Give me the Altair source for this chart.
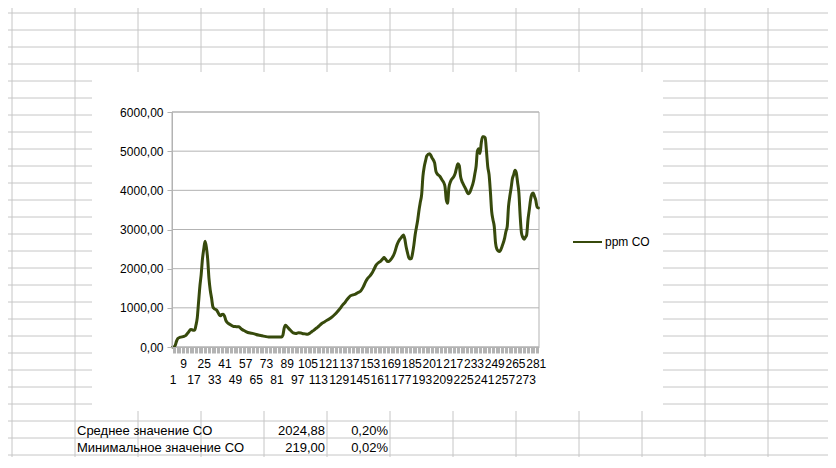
import altair as alt
import pandas as pd

# ---------------- data ----------------
series_name = "ppm CO"
idx = [1, 2, 3, 4, 5, 7, 9, 11, 13, 15, 16, 17, 18, 19, 20, 21, 22, 23, 24, 25,
       26, 27, 28, 29, 30, 31, 32, 33, 35, 37, 38, 39, 40, 41, 42, 43, 45, 48, 50, 52,
       54, 56, 59, 62, 64, 67, 70, 73, 75, 80, 85, 86, 87, 88, 89, 90, 92, 94, 96, 98,
       100, 101, 103, 105, 107, 108, 110, 112, 114, 116, 118, 120, 122, 124, 126, 128, 130, 132, 134, 135,
       137, 138, 140, 142, 144, 146, 148, 150, 151, 153, 155, 156, 158, 160, 161, 163, 164, 165, 167, 168,
       170, 172, 174, 176, 177, 179, 180, 181, 182, 183, 184, 185, 186, 187, 188, 190, 191, 192, 193, 194,
       195, 196, 197, 199, 200, 201, 203, 204, 205, 207, 209, 210, 211, 212, 213, 214, 215, 216, 218, 219,
       220, 221, 222, 223, 224, 225, 227, 229, 230, 231, 233, 234, 235, 236, 237, 238, 239, 240, 241, 242,
       243, 244, 245, 246, 247, 248, 249, 250, 251, 252, 253, 254, 255, 257, 258, 259, 260, 261, 262, 263,
       264, 265, 266, 267, 268, 269, 270, 271, 272, 273, 274, 275, 276, 277, 278, 279, 280, 281, 282, 283]
ppm = [0, 0, 40, 150, 215, 250, 265, 290, 370, 445, 440, 425, 430, 560, 750, 1150, 1550, 1850, 2250, 2500,
       2700, 2550, 2250, 1750, 1450, 1250, 1030, 980, 940, 820, 800, 830, 835, 790, 680, 630, 580, 525, 520, 515,
       460, 420, 370, 350, 335, 305, 285, 265, 258, 256, 256, 300, 480, 556, 530, 490, 420, 360, 345, 365,
       360, 345, 335, 326, 360, 385, 430, 485, 540, 600, 640, 685, 720, 770, 830, 900, 980, 1070, 1140, 1190,
       1270, 1305, 1330, 1350, 1390, 1430, 1535, 1680, 1735, 1810, 1900, 1965, 2095, 2160, 2180, 2250, 2282, 2250, 2180, 2190,
       2265, 2394, 2607, 2740, 2780, 2860, 2760, 2564, 2420, 2290, 2250, 2255, 2390, 2600, 2864, 3250, 3500, 3700, 3890, 4360,
       4600, 4750, 4880, 4933, 4900, 4830, 4700, 4490, 4420, 4360, 4250, 4200, 4100, 3760, 3670, 4060, 4200, 4274, 4360, 4446,
       4580, 4676, 4633, 4360, 4240, 4164, 4036, 3915, 3940, 4018, 4231, 4420, 4615, 5000, 5061, 4941, 5215, 5369, 5370, 5343,
       5000, 4600, 4400, 3974, 3461, 3250, 3077, 2651, 2500, 2454, 2436, 2480, 2564, 2779, 2950, 3077, 3590, 3850, 4061, 4300,
       4402, 4513, 4446, 4200, 3933, 3333, 2907, 2800, 2754, 2800, 2864, 3249, 3500, 3761, 3900, 3933, 3846, 3750, 3574, 3550]
n_categories = 283
y_ticks = [0, 1000, 2000, 3000, 4000, 5000, 6000]

stat_labels = ["Среднее значение CO", "Минимальное значение CO"]
stat_values = [2024.88, 219.00]
stat_percent = [0.20, 0.02]

sheet_cols = list(range(14))
sheet_rows = list(range(27))

# ---------------- styling / layout ----------------
W, H = 367, 235
LINE = "#374a0c"
GRAY = "#b3b3b3"
SHEET = "#c6c6c6"
FONT = "Liberation Sans"

df = pd.DataFrame({"i": idx, "ppm": ppm, "series": series_name})
one = pd.DataFrame({"a": [0]})

hgrid = alt.Chart(pd.DataFrame({"py": [-99 + 17 * r for r in sheet_rows]})).mark_rule(
    color=SHEET, strokeWidth=1).encode(
    y=alt.Y("py:Q", scale=None, axis=None),
    x=alt.value(-172), x2=alt.value(660))
vgrid = alt.Chart(pd.DataFrame({"px": [-160 + 63 * c for c in sheet_cols]})).mark_rule(
    color=SHEET, strokeWidth=1).encode(
    x=alt.X("px:Q", scale=None, axis=None),
    y=alt.value(-112), y2=alt.value(345))
white = alt.Chart(one).mark_rect(fill="white").encode(
    x=alt.value(-80), x2=alt.value(491), y=alt.value(-40), y2=alt.value(299))
frame = alt.Chart(one).mark_rect(fill=None, stroke=GRAY, strokeWidth=1).encode(
    x=alt.value(0), x2=alt.value(W), y=alt.value(0), y2=alt.value(H))

yscale = alt.Scale(domain=[0, 6000], nice=False)
xscale = alt.Scale(domain=[0.5, n_categories + 0.5], nice=False, zero=False)

y_axis = alt.Axis(values=y_ticks, grid=False, tickSize=5, tickColor=GRAY,
                  domainColor=GRAY, labelPadding=4, labelOverlap=False,
                  labelFlush=False, labelBound=False, tickCount=7,
                  labelExpr="replace(format(datum.value, '.2f'), '.', ',')",
                  labelFont=FONT, labelFontSize=12, labelColor="black", zindex=1)
x_axis = alt.Axis(values=list(range(1, n_categories + 1)), grid=False,
                  tickSize=6, tickColor=GRAY, domainColor=GRAY, tickWidth=1,
                  labelExpr="(datum.value - 1) % 16 == 8 ? toString(datum.value) : ((datum.value - 1) % 16 == 0 ? ['', toString(datum.value)] : '')",
                  labelOverlap=False, labelFlush=False, labelBound=False,
                  labelFont=FONT, labelFontSize=12, labelColor="black",
                  labelPadding=5, labelLineHeight=16, zindex=1)

gridlines = alt.Chart(pd.DataFrame({"t": y_ticks})).mark_rule(color=GRAY, strokeWidth=1).encode(
    y=alt.Y("t:Q", scale=yscale, title=None, axis=y_axis),
    x=alt.value(0), x2=alt.value(W))

line = alt.Chart(df).mark_line(color=LINE, strokeWidth=3, interpolate="monotone",
                               strokeCap="round", strokeJoin="round").encode(
    x=alt.X("i:Q", scale=xscale, title=None, axis=x_axis),
    y=alt.Y("ppm:Q", scale=yscale, title=None, axis=y_axis))

leg_df = pd.DataFrame({"series": [series_name]})
leg_line = alt.Chart(leg_df).mark_rule(color=LINE, strokeWidth=2).encode(
    x=alt.value(401), x2=alt.value(430), y=alt.value(130))
leg_text = alt.Chart(leg_df).mark_text(align="left", baseline="middle", font=FONT,
                                       fontSize=12, color="black").encode(
    x=alt.value(433), y=alt.value(130), text="series:N")

stats = pd.DataFrame({"label": stat_labels, "val": stat_values, "pct": stat_percent,
                      "py": [323 + 17 * r for r in range(len(stat_labels))]})
base_t = alt.Chart(stats).transform_calculate(
    vtxt="replace(format(datum.val, '.2f'), '.', ',')",
    ptxt="replace(format(datum.pct, '.2f'), '.', ',') + '%'")
t1 = base_t.mark_text(align="left", baseline="alphabetic", font=FONT, fontSize=13, color="black").encode(
    x=alt.value(-95), y=alt.Y("py:Q", scale=None, axis=None), text="label:N")
t2 = base_t.mark_text(align="right", baseline="alphabetic", font=FONT, fontSize=13, color="black").encode(
    x=alt.value(153), y=alt.Y("py:Q", scale=None, axis=None), text="vtxt:N")
t3 = base_t.mark_text(align="right", baseline="alphabetic", font=FONT, fontSize=13, color="black").encode(
    x=alt.value(216), y=alt.Y("py:Q", scale=None, axis=None), text="ptxt:N")

chart = alt.layer(hgrid, vgrid, white, frame, gridlines, line, leg_line, leg_text, t1, t2, t3).properties(
    width=W, height=H,
    autosize=alt.AutoSizeParams(type="none"),
    padding={"left": 164, "top": 104, "right": 820 - 164 - W, "bottom": 450 - 104 - H},
    background="white",
).configure_view(stroke=None)

chart.save("out.html", embed_options={"renderer": "svg", "actions": False})
